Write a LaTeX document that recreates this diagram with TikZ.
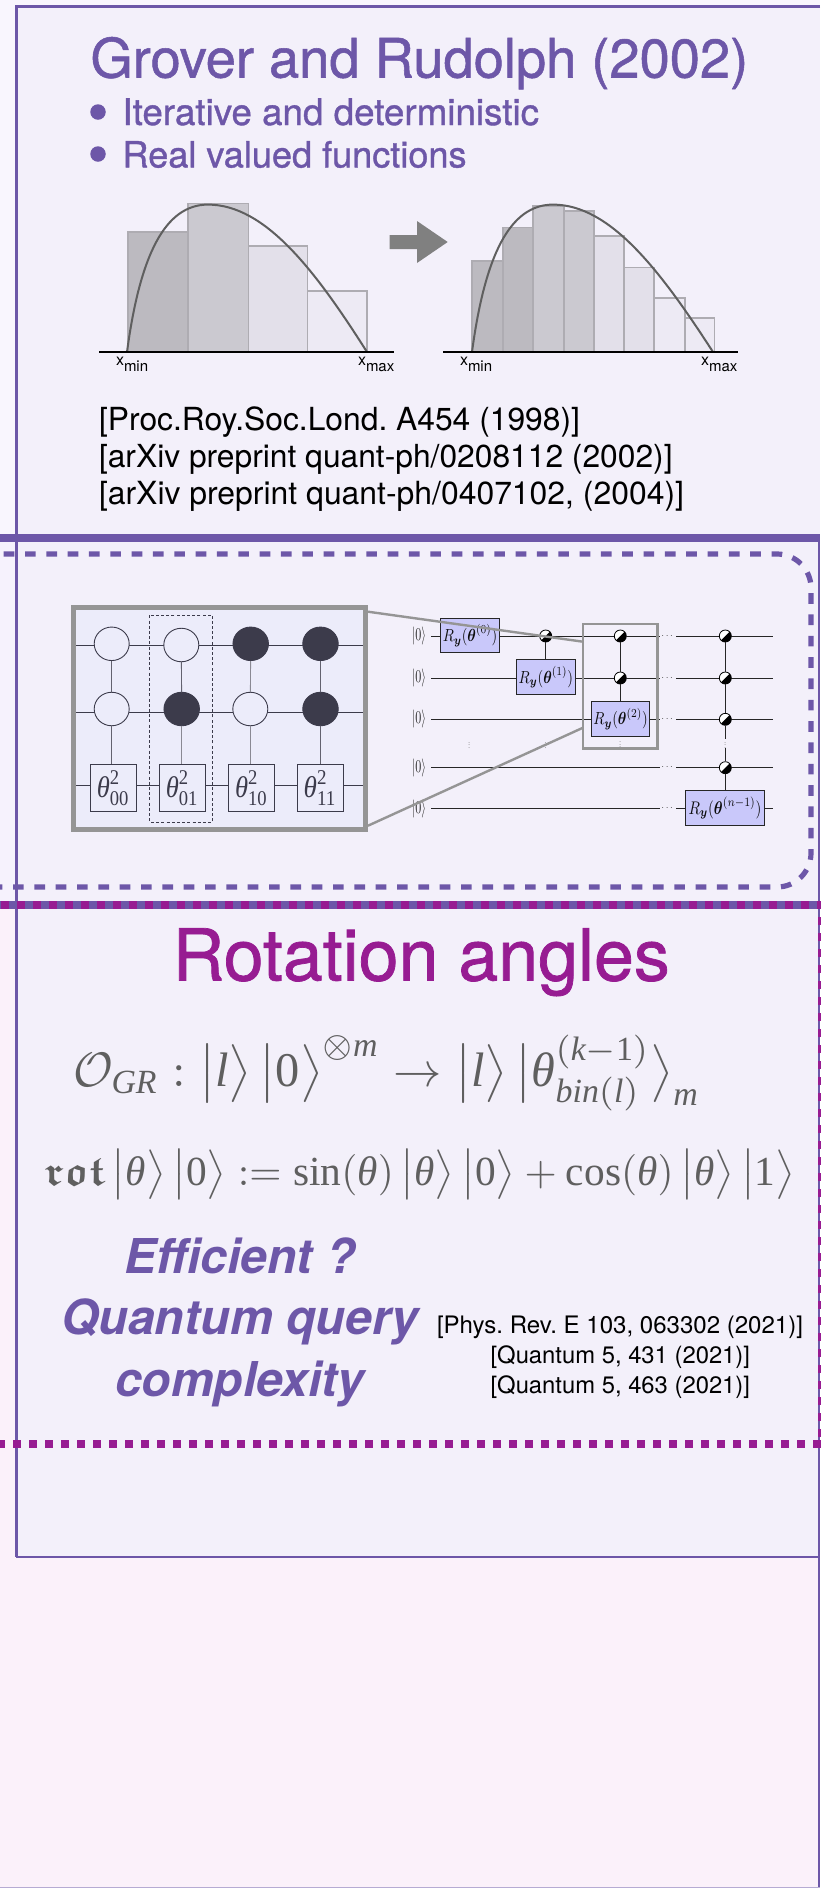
\documentclass[tikz,border=0pt]{standalone}
\usepackage{amsmath,amssymb,graphicx}
\usepackage{fontspec}
\setmainfont{Liberation Serif}
\setsansfont{TeX Gyre Heros}
\newfontfamily\hvb[FakeBold=1]{TeX Gyre Heros}
\usetikzlibrary{shapes.geometric}
\definecolor{pagepink}{HTML}{FBF1FA}
\definecolor{panelbg}{HTML}{F3F0FA}
\definecolor{stripa}{HTML}{F9F6FE}
\definecolor{stripb}{HTML}{F6F2FD}
\definecolor{violet1}{HTML}{6D57A8}
\definecolor{magenta1}{HTML}{971C92}
\definecolor{zoomgray}{HTML}{959595}
\definecolor{darkdot}{HTML}{3C3B4B}
\definecolor{cfill}{HTML}{ECECFA}
\definecolor{gatefill}{HTML}{C9C8FA}
\definecolor{eqgray}{HTML}{5F5F5F}
\definecolor{barA}{HTML}{BCBAC0}
\definecolor{barB}{HTML}{CBC9D0}
\definecolor{barC}{HTML}{E3E0EA}
\definecolor{barD}{HTML}{EDEAF4}
\definecolor{barline}{HTML}{AEACB2}
\newcommand{\fitw}[2]{\resizebox{#1pt}{!}{#2}}
\newcommand{\fitwh}[3]{\resizebox*{#1pt}{#2pt}{#3}}
\newcommand{\ti}[1]{\text{\rmfamily\itshape #1}}
\newcommand{\tr}[1]{\text{\rmfamily\upshape #1}}
\newcommand{\ry}[1]{$R_{\boldsymbol{y}}(\boldsymbol{\theta}^{(#1)})$}
\newcommand{\kb}[1]{\big|#1\big\rangle}
\tikzset{
  txt/.style={anchor=base west,inner sep=0pt,outer sep=0pt},
  barbox/.style={draw=barline,line width=1.8pt},
  axisline/.style={draw=black,line width=2.2pt},
  curveline/.style={draw=eqgray,line width=2pt},
  bulletdot/.style={circle,fill=violet1,inner sep=0pt,minimum size=15.5pt},
  opencirc/.style={ellipse,draw=darkdot,line width=.9pt,fill=cfill,inner sep=0pt,minimum width=35pt,minimum height=33.5pt},
  fullcirc/.style={ellipse,draw=darkdot,line width=.9pt,fill=darkdot,inner sep=0pt,minimum width=35.5pt,minimum height=33.5pt},
  thetabox/.style={draw=darkdot,line width=.9pt,fill=cfill,minimum width=46.5pt,minimum height=46.5pt,inner sep=0pt,text=darkdot},
  cwire/.style={draw=darkdot,line width=.9pt},
  qwire/.style={draw=black!85,line width=.9pt},
  gatebox/.style={draw=black!85,line width=1pt,fill=gatefill,inner sep=0pt,minimum height=34.5pt,text=black!95},
  ctrlnode/.style={circle,draw=black,line width=.8pt,fill=white,inner sep=0pt,minimum size=12pt,
    path picture={\fill[black] (path picture bounding box.north east)--(path picture bounding box.south west)--(path picture bounding box.south east)--cycle;}},
  zoomline/.style={draw=zoomgray,line width=2.4pt},
  ketlabel/.style={inner sep=0pt,text=black!85},
  dotslabel/.style={inner sep=0pt,text=black!70},
}
\begin{document}
\begin{tikzpicture}[x=1pt,y=-1pt]
\useasboundingbox (0,0) rectangle (820,1888);
% backgrounds
\fill[pagepink] (0,0) rectangle (820,1888);
\fill[stripa] (0,0) rectangle (16.7,538);
\fill[stripa] (0,0) rectangle (820,6.5);
\fill[stripb] (0,538) rectangle (16.7,905);
\fill[panelbg] (16.7,6.5) rectangle (820,1557);
\draw[draw=violet1,line width=3pt] (820,6.5) -- (16.7,6.5) -- (16.7,1557);
\draw[draw=violet1,line width=2.5pt] (15.5,1557) -- (820,1557);
\draw[draw=violet1,line width=2.5pt] (819,538) -- (819,1888);
\draw[draw=violet1!50,line width=1pt] (0,1887.5) -- (820,1887.5);
% header
\node[txt,text=violet1] (title) at (90.5,77.5) {\fitw{657.5}{\hvb Grover and Rudolph (2002)}};
\node[bulletdot] (b1) at (98,112) {};
\node[bulletdot] (b2) at (98,154) {};
\node[txt,text=violet1] (item1) at (122.5,125) {\fitw{416.5}{\hvb Iterative and deterministic}};
\node[txt,text=violet1] (item2) at (122.5,167.4) {\fitw{344}{\hvb Real valued functions}};
% histogram 1
\filldraw[barbox,fill=barA] (128,352) rectangle (188,232);
\filldraw[barbox,fill=barB] (188,352) rectangle (248.4,203.5);
\filldraw[barbox,fill=barC] (248.4,352) rectangle (307.5,245.7);
\filldraw[barbox,fill=barD] (307.5,352) rectangle (367,291);
\draw[curveline] (127,352) .. controls (140,255) and (165,204.6) .. (208,204.6) .. controls (265,204.6) and (315,270) .. (367,352);
\draw[axisline] (99.4,352) -- (394.4,352);
\node[txt] (xmina) at (116,365.5) {\sffamily\fontsize{16}{16}\selectfont x\raisebox{-6pt}{\fontsize{15}{15}\selectfont min}};
\node[txt] (xmaxa) at (358,365.5) {\sffamily\fontsize{16}{16}\selectfont x\raisebox{-6pt}{\fontsize{15}{15}\selectfont max}};
% block arrow
\fill[fill=black!50] (389.6,235) -- (417,235) -- (417,221) -- (447.7,242) -- (417,263) -- (417,249) -- (389.6,249) -- cycle;
% histogram 2
\filldraw[barbox,fill=barA] (472.3,352) rectangle (502.6,261);
\filldraw[barbox,fill=barA] (502.6,352) rectangle (533,227.5);
\filldraw[barbox,fill=barB] (533,352) rectangle (563.8,206);
\filldraw[barbox,fill=barB] (563.8,352) rectangle (594,210.7);
\filldraw[barbox,fill=barC] (594,352) rectangle (624,236);
\filldraw[barbox,fill=barC] (624,352) rectangle (654,267.5);
\filldraw[barbox,fill=barD] (654,352) rectangle (684.6,298);
\filldraw[barbox,fill=barD] (684.6,352) rectangle (714.4,318);
\draw[curveline] (472,352) .. controls (485,255) and (510,204.6) .. (553,204.6) .. controls (610,204.6) and (660,270) .. (713,352);
\draw[axisline] (443,352) -- (738,352);
\node[txt] (xminb) at (460,365.5) {\sffamily\fontsize{16}{16}\selectfont x\raisebox{-6pt}{\fontsize{15}{15}\selectfont min}};
\node[txt] (xmaxb) at (701,365.5) {\sffamily\fontsize{16}{16}\selectfont x\raisebox{-6pt}{\fontsize{15}{15}\selectfont max}};
% references
\node[txt] (refa) at (99,430) {\fitw{481}{\sffamily [Proc.Roy.Soc.Lond.\ A454 (1998)]}};
\node[txt] (refb) at (99,467.5) {\fitw{573.5}{\sffamily [arXiv preprint quant-ph/0208112 (2002)]}};
\node[txt] (refc) at (99,504.5) {\fitw{585}{\sffamily [arXiv preprint quant-ph/0407102, (2004)]}};
% separators
\draw[draw=violet1,line width=8pt] (0,538) -- (820,538);
\draw[draw=violet1,line width=8.5pt] (0,905) -- (820,905);
\draw[draw=violet1,line width=5.2pt,dash pattern=on 10.67pt off 10.66pt,rounded corners=34pt]
  (3.67,554) -- (811,554) -- (811,887) -- (-6,887);
\draw[draw=magenta1,line width=8.2pt,dash pattern=on 8pt off 8pt] (0.67,905) -- (830,905);
\draw[draw=magenta1,line width=8pt,dash pattern=on 8pt off 8pt] (822,916.7) -- (822,1444);
\draw[draw=magenta1,line width=8.2pt,dash pattern=on 8pt off 8pt] (-3,1444) -- (830,1444);
% left circuit frame
\fill[cfill] (73.7,607.3) rectangle (365.5,829.6);
\coordinate (wa1) at (76.3,645); \coordinate (wb1) at (363,645);
\coordinate (wa2) at (76.3,712.3); \coordinate (wb2) at (363,712.3);
\coordinate (wa3) at (76.3,785); \coordinate (wb3) at (363,785);
\draw[cwire] (wa1) -- (wb1);
\draw[cwire] (wa2) -- (wb2);
\draw[cwire] (wa3) -- (wb3);
\node[opencirc] (n11) at (111.7,643.8) {};
\node[opencirc] (n12) at (181.3,645) {};
\node[fullcirc] (n13) at (250.7,643.8) {};
\node[fullcirc] (n14) at (320.5,643.8) {};
\node[opencirc] (n21) at (111.7,709) {};
\node[fullcirc] (n22) at (181.7,709) {};
\node[opencirc] (n23) at (250.3,709) {};
\node[fullcirc] (n24) at (320.5,709) {};
\node[thetabox] (t00) at (113.3,787.7) {\fitwh{33}{35}{$\ti{θ}^{\tr{2}}_{\tr{00}}$}};
\node[thetabox] (t01) at (182.3,787.7) {\fitwh{33}{35}{$\ti{θ}^{\tr{2}}_{\tr{01}}$}};
\node[thetabox] (t10) at (251.5,787.7) {\fitwh{33}{35}{$\ti{θ}^{\tr{2}}_{\tr{10}}$}};
\node[thetabox] (t11) at (320.2,787.7) {\fitwh{33}{35}{$\ti{θ}^{\tr{2}}_{\tr{11}}$}};
\draw[cwire,draw=darkdot!80] (n11) -- (n21);
\draw[cwire,draw=darkdot!80] (n12) -- (n22);
\draw[cwire,draw=darkdot!60] (n13) -- (n23);
\draw[cwire,draw=darkdot!80] (n14) -- (n24);
\draw[cwire,draw=darkdot!80] (n21.south) -- (n21.south|-t00.north);
\draw[cwire,draw=darkdot!60] (n22.south) -- (n22.south|-t01.north);
\draw[cwire,draw=darkdot!60] (n23.south) -- (n23.south|-t10.north);
\draw[cwire,draw=darkdot!80] (n24.south) -- (n24.south|-t11.north);
\draw[draw=darkdot,line width=.9pt,dash pattern=on 3pt off 2.2pt] (149.7,615.3) rectangle (212.7,822);
\node[draw=zoomgray,line width=5pt,inner sep=0pt,minimum width=291.8pt,minimum height=222.3pt] (zoomframe) at (219.6,718.45) {};
% right circuit
\foreach \yy/\nm in {636/1,678/2,719.3/3,767.7/4,808.7/5}{
  \coordinate (qs\nm) at (431.3,\yy);
  \coordinate (qm\nm) at (660,\yy);
  \coordinate (qn\nm) at (676,\yy);
  \coordinate (qe\nm) at (772.7,\yy);
  \draw[qwire] (qs\nm) -- (qm\nm);
  \draw[qwire] (qn\nm) -- (qe\nm);
  \node[ketlabel] (ket\nm) at (419,\yy) {\fitwh{14}{18}{$|0\rangle$}};
  \node[dotslabel] (hd\nm) at (668,\yy) {$\cdots$};
}
\node[gatebox,minimum width=58.6pt] (R0) at (470,635.4) {\fitwh{54.5}{22}{\ry{0}}};
\node[gatebox,minimum width=58.3pt] (R1) at (545.85,677.2) {\fitwh{54.5}{22}{\ry{1}}};
\node[gatebox,minimum width=58.4pt] (R2) at (620.5,718.9) {\fitwh{54.5}{22}{\ry{2}}};
\node[gatebox,minimum width=78.6pt] (Rn) at (725,807.9) {\fitwh{73}{23}{\ry{n-1}}};
\node[ctrlnode] (ca1) at (545.7,636) {};
\node[ctrlnode] (cb1) at (620.3,636) {};
\node[ctrlnode] (cb2) at (620.3,678) {};
\node[ctrlnode] (cc1) at (725.3,636) {};
\node[ctrlnode] (cc2) at (725.3,678) {};
\node[ctrlnode] (cc3) at (725.3,719.3) {};
\node[ctrlnode] (cc4) at (725.3,767.7) {};
\draw[qwire] (ca1) -- (ca1|-R1.north);
\draw[qwire] (cb1) -- (cb2);
\draw[qwire] (cb2) -- (cb2|-R2.north);
\draw[qwire] (cc1) -- (cc2);
\draw[qwire] (cc2) -- (cc3);
\draw[qwire] (cc3) -- (cc4);
\draw[qwire] (cc4) -- (cc4|-Rn.north);
\node[dotslabel] (vd1) at (469.3,743.5) {\scalebox{.65}{$\vdots$}};
\node[dotslabel] (vd2) at (545.7,743.5) {\scalebox{.65}{$\vdots$}};
\node[dotslabel] (vd3) at (620.3,743) {\scalebox{.65}{$\vdots$}};
\node[dotslabel,fill=panelbg] (vd4) at (725.3,743.5) {\scalebox{.65}{$\vdots$}};
\node[draw=zoomgray,line width=2.4pt,inner sep=0pt,minimum width=74.3pt,minimum height=124.3pt] (zoombox) at (620.15,686.15) {};
\coordinate (zfa) at (368,611.7);
\coordinate (zfb) at (368,825.7);
\coordinate (zba) at (583,641.7);
\coordinate (zbb) at (583,727.7);
\draw[zoomline] (zfa) -- (zba);
\draw[zoomline] (zfb) -- (zbb);
% rotation angles
\node[txt,text=magenta1] (rot) at (172.6,980.5) {\fitw{497}{\hvb Rotation angles}};
\node[txt,text=eqgray] (eqa) at (73,1086) {\fitw{627}{$\mathcal{O}_{\ti{GR}}:\kb{\ti{l}}\,\kb{\tr{0}}^{\otimes\ti{m}}\rightarrow\kb{\ti{l}}\,\kb{\ti{θ}^{(\ti{k}-\tr{1})}_{\ti{bin}(\ti{l})}}_{\ti{m}}$}};
\node[txt,text=eqgray] (eqb) at (44.5,1185) {\fitw{750.5}{$\boldsymbol{\mathfrak{rot}}\,\kb{\ti{θ}}\,\kb{\tr{0}}:=\tr{sin}(\ti{θ})\,\kb{\ti{θ}}\,\kb{\tr{0}}+\tr{cos}(\ti{θ})\,\kb{\ti{θ}}\,\kb{\tr{1}}$}};
% efficient block
\node[txt,text=violet1] (effa) at (124.5,1273.7) {\fitw{231}{\sffamily\bfseries\itshape Efficient ?}};
\node[txt,text=violet1] (effb) at (61,1334) {\fitw{357.5}{\sffamily\bfseries\itshape Quantum query}};
\node[txt,text=violet1] (effc) at (115,1396) {\fitw{249.5}{\sffamily\bfseries\itshape complexity}};
\node[txt] (refd) at (437,1333.5) {\fitw{366}{\sffamily [Phys.\ Rev.\ E 103, 063302 (2021)]}};
\node[txt] (refe) at (490.6,1363.5) {\fitw{259.4}{\sffamily [Quantum 5, 431 (2021)]}};
\node[txt] (reff) at (490.6,1393) {\fitw{259.4}{\sffamily [Quantum 5, 463 (2021)]}};
\end{tikzpicture}
\end{document}
